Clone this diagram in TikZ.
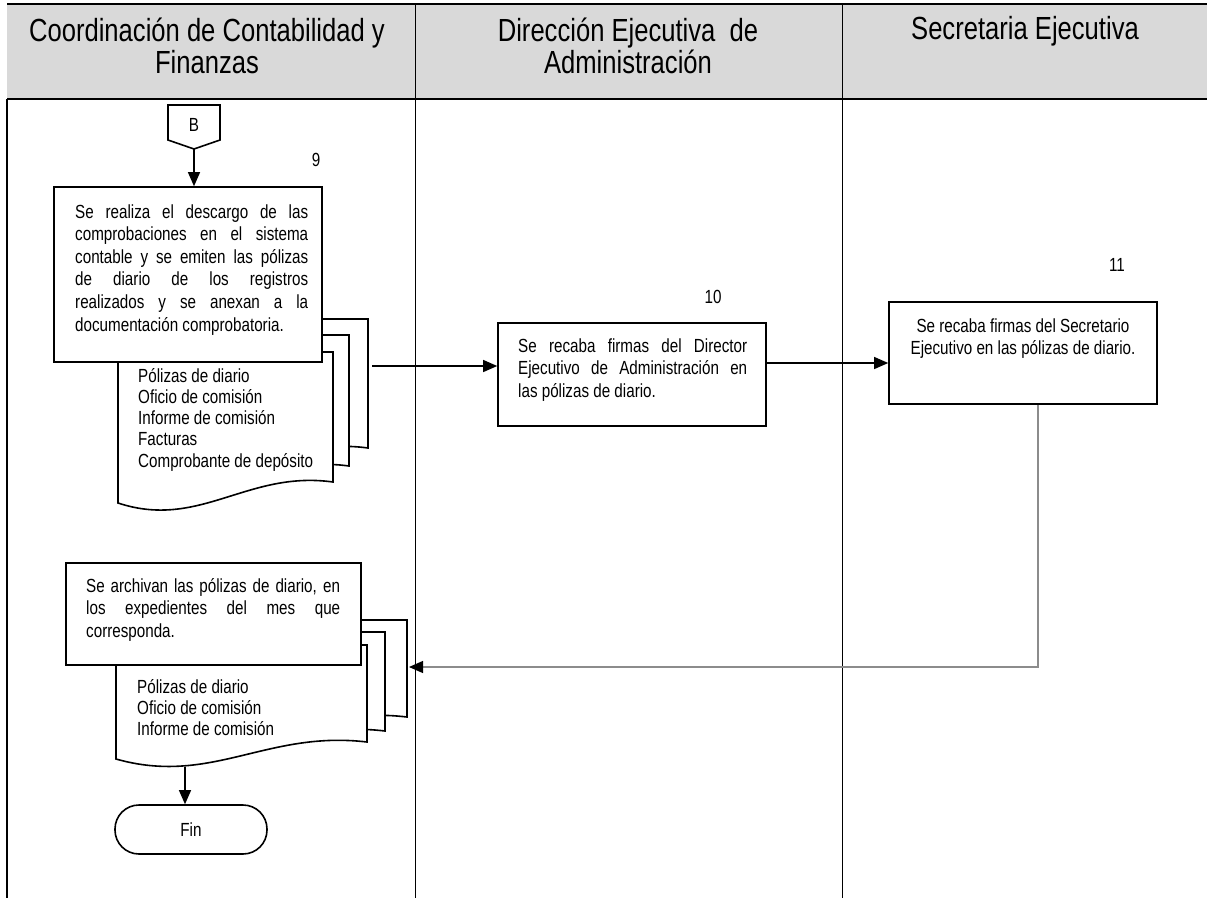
\documentclass[tikz,border=0pt]{standalone}
\usepackage{fontspec}
\setmainfont{Liberation Sans}[FakeStretch=0.8]
\usetikzlibrary{arrows.meta}
\newcommand\jline[2]{\makebox[#1][s]{#2}}
\newcommand\bodyfont{\fontsize{19}{22.6}\selectfont}
\newcommand\docfont{\fontsize{19}{21.3}\selectfont}
\newcommand\hdrfont{\fontsize{32}{32}\selectfont}
% L R T BR BL
\newcommand\drawdoc[5]{\filldraw[docst] (#1,#3) -- (#2,#3) -- (#2,#4) .. controls ({#2-0.4*(#2-#1)},{#4-12}) and ({#1+0.38*(#2-#1)},{#5+27}) .. (#1,#5) -- cycle;}
\begin{document}
\begin{tikzpicture}[x=1pt,y=-1pt,
  docst/.style={draw=black, fill=white, line width=1.6pt},
  procbox/.style={draw=black, fill=white, line width=1.6pt, rectangle, inner sep=0pt},
  txt/.style={anchor=base west, inner sep=0pt, font=\bodyfont},
  dtxt/.style={anchor=base west, inner sep=0pt, font=\docfont},
  numlbl/.style={inner sep=0pt, font=\bodyfont},
  hdr/.style={anchor=base, inner sep=0pt, font=\hdrfont},
  conn/.style={draw=black, line width=1.1pt, -{Triangle[length=14pt,width=12pt]}},
  grayconn/.style={draw=black!45, line width=1.1pt, -{Triangle[length=14pt,width=12pt,color=black]}},
  lane/.style={draw=black, line width=0.9pt}
]
\useasboundingbox (0,0) rectangle (1207,898);
% header
\fill[black!15] (7,4) rectangle (1207,99);
\draw[line width=1.8pt] (7,4) -- (1207,4);
\draw[line width=1.8pt] (7,99) -- (1207,99);
\draw[lane] (415,4) -- (415,898);
\draw[lane] (842,4) -- (842,898);
\draw[line width=1.2pt] (7,99) -- (7,898);
\node[hdr] (h1) at (207,41) {\parbox[t]{400pt}{\centering Coordinación de Contabilidad y\\Finanzas}};
\node[hdr] (h2) at (628,41) {\parbox[t]{400pt}{\centering Dirección Ejecutiva\ \ de\\Administración}};
\node[hdr] (h3) at (1025,39) {Secretaria Ejecutiva};

% B connector
\filldraw[draw=black, fill=white, line width=1.6pt] (168,105) -- (220,105) -- (220,140) -- (194,149) -- (168,140) -- cycle;
\node[numlbl] (B) at (194,125) {B};
\coordinate (Btip) at (194,149);
\node[numlbl] (n9) at (316,160) {9};

% document stack 1
\drawdoc{152}{368}{319}{448}{469}
\drawdoc{135}{349}{335}{466}{487}
\drawdoc{118}{333}{352}{482}{503}
\node[dtxt] (d1t) at (138,382) {\parbox[t]{200pt}{Pólizas de diario\\Oficio de comisión\\Informe de comisión\\Facturas\\Comprobante de depósito}};

% box 1
\node[procbox, minimum width=268pt, minimum height=175pt] (box1) at (188,274.5) {};
\node[txt] (t1) at (75,218) {\parbox[t]{233pt}{%
\jline{233pt}{Se realiza el descargo de las}\\
\jline{233pt}{comprobaciones en el sistema}\\
\jline{233pt}{contable y se emiten las pólizas}\\
\jline{233pt}{de diario de los registros}\\
\jline{233pt}{realizados y se anexan a la}\\
documentación comprobatoria.}};
\draw[conn] (Btip) -- (Btip |- box1.north);

% box 2
\node[numlbl] (n10) at (713,297) {10};
\node[procbox, minimum width=268pt, minimum height=103pt] (box2) at (632,374.5) {};
\node[txt] (t2) at (518,352) {\parbox[t]{229pt}{%
\jline{229pt}{Se recaba firmas del Director}\\
\jline{229pt}{Ejecutivo de Administración en}\\
las pólizas de diario.}};
\coordinate (d1out) at (372,366);
\draw[conn] (d1out) -- (d1out -| box2.west);

% box 3
\node[numlbl] (n11) at (1117,265) {11};
\node[procbox, minimum width=268pt, minimum height=102pt] (box3) at (1023,353) {};
\node[txt, anchor=base] (t3) at (1023,332) {\parbox[t]{260pt}{\centering Se recaba firmas del Secretario\\Ejecutivo en las pólizas de diario.}};
\draw[conn] (box2.east |- 0,363) -- (box3.west |- 0,363);

% document stack 2
\drawdoc{156}{407}{620}{717}{734}
\drawdoc{134}{385}{632}{731}{748}
\drawdoc{116}{367}{645}{742}{759}
\node[dtxt] (d2t) at (137,693) {\parbox[t]{200pt}{Pólizas de diario\\Oficio de comisión\\Informe de comisión}};
\coordinate (d2in) at (409,667);
\coordinate (d2bot) at (185,767);

% box 4
\node[procbox, minimum width=295pt, minimum height=102pt] (box4) at (213.5,614) {};
\node[txt] (t4) at (86,592) {\parbox[t]{254pt}{%
\jline{254pt}{Se archivan las pólizas de diario, en}\\
\jline{254pt}{los expedientes del mes que}\\
corresponda.}};

\draw[grayconn] (box3.south -| 1038,0) -- (1038,667) -- (d2in);

% Fin
\node[procbox, minimum width=152pt, minimum height=49pt, rounded corners=24pt, font=\bodyfont] (fin) at (191,829.5) {Fin};
\draw[conn] (d2bot) -- (d2bot |- fin.north);
\end{tikzpicture}
\end{document}
